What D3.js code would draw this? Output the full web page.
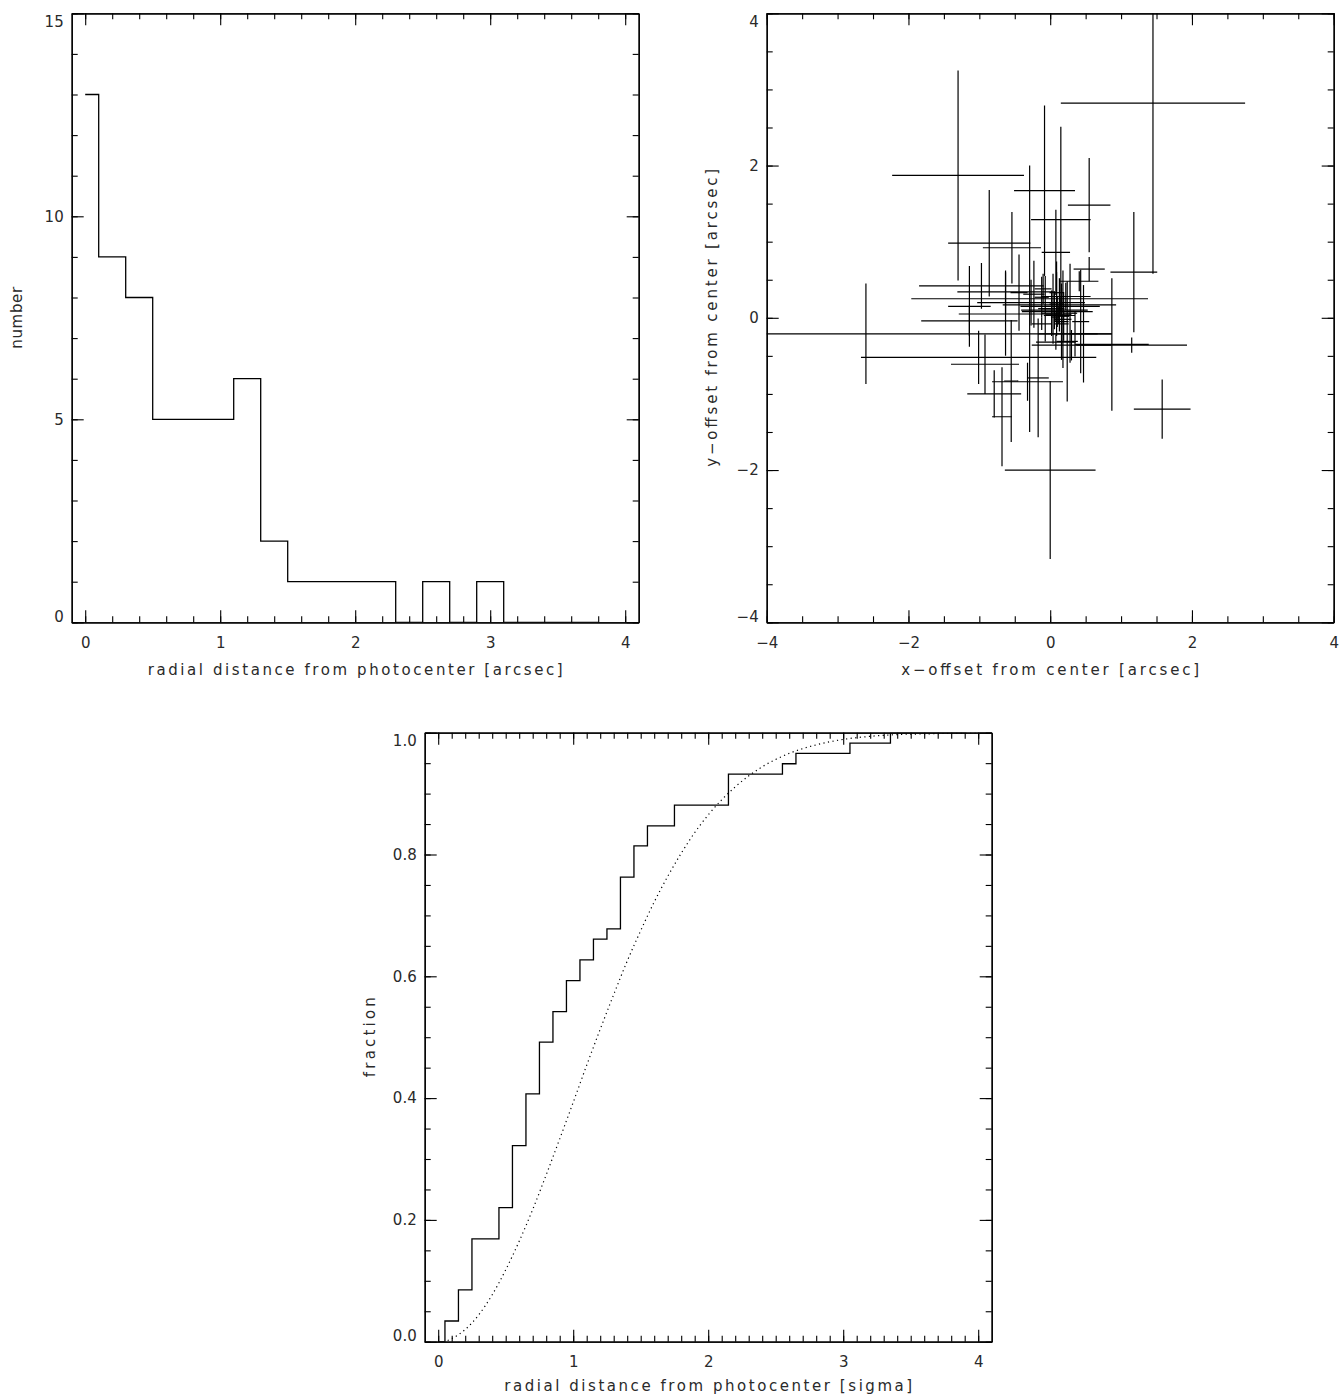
<!DOCTYPE html>
<html>
<head>
<meta charset="utf-8">
<script src="https://cdn.jsdelivr.net/npm/d3@7"></script>
<style>
  body { margin: 0; background: #fff; }
  svg { display: block; }
  text { font-family: "DejaVu Sans", "Liberation Sans", sans-serif; fill: #2a2a2a; }
</style>
</head>
<body>
<svg id="fig" width="1340" height="1397"></svg>
<script>
// --- top left: histogram of radial distances [arcsec] (bin centres, counts)
const histR = [0, 0.2, 0.4, 0.6, 0.8, 1.0, 1.2, 1.4, 1.6, 1.8, 2.0, 2.2, 2.4, 2.6, 2.8, 3.0, 3.2, 3.4, 3.6, 3.8];
const histN = [13, 9, 8, 5, 5, 5, 6, 2, 1, 1, 1, 1, 0, 1, 0, 1, 0, 0, 0, 0];

// --- top right: offsets from center with 1-sigma errors [arcsec]
const offX = [1.45, -1.30, -0.08, 0.15, 0.55, 1.18, -0.86, -0.54, -0.29, -2.60,
  -1.01, -0.92, -0.79, -0.68, 0.00, 1.58, 0.87, 0.08, 0.55, 0.41,
  -0.97, -0.63, -0.27, 0.13, -1.14, -1.14, 0.35, 1.15, -0.32, -0.55,
  -0.17, -0.63, -0.44, -0.23, 0.18, 0.24, 0.28, 0.43, 0.47, 0.06,
  0.10, 0.04, 0.16, 0.19, 0.09, 0.12, 0.14, 0.02, 0.16, 0.09,
  0.13, 0.07, -0.07, -0.12, 0.08, 0.30, -0.12, 0.22, -0.10];
const offY = [2.82, 1.87, 1.67, 1.29, 1.48, 0.60, 0.98, 0.92, 0.25, -0.21,
  -0.52, -0.61, -1.00, -1.30, -2.00, -1.20, -0.35, 0.86, 0.64, 0.48,
  0.42, 0.34, 0.20, 0.17, 0.15, -0.04, -0.21, -0.36, -0.84, -0.83,
  -0.79, 0.05, 0.33, 0.31, -0.02, -0.31, 0.06, -0.05, -0.21, 0.10,
  0.08, 0.12, -0.05, 0.02, 0.18, 0.04, 0.15, 0.06, -0.08, 0.33,
  0.03, 0.01, 0.12, 0.27, -0.32, -0.36, -0.08, 0.28, 0.38];
const errX = [1.30, 0.93, 0.43, 0.42, 0.30, 0.33, 0.58, 0.41, 1.67, 3.47,
  1.66, 0.48, 0.38, 0.14, 0.64, 0.40, 0.52, 0.20, 0.22, 0.27,
  0.88, 0.68, 0.76, 0.80, 0.30, 0.68, 0.52, 0.78, 0.50, 0.10,
  0.15, 0.66, 0.12, 0.15, 0.12, 0.15, 0.10, 0.12, 0.20, 0.47,
  0.50, 0.16, 0.10, 0.08, 0.10, 0.18, 0.56, 0.14, 0.10, 0.10,
  0.22, 0.06, 0.10, 0.10, 0.28, 0.56, 0.14, 0.35, 0.12];
const errY = [2.24, 1.38, 1.12, 1.22, 0.62, 0.79, 0.70, 0.47, 1.75, 0.66,
  0.35, 0.39, 0.31, 0.65, 1.17, 0.39, 0.87, 0.56, 0.16, 0.13,
  0.30, 0.28, 0.30, 0.35, 0.53, 0.20, 0.30, 0.10, 0.25, 0.80,
  0.78, 0.55, 0.50, 0.44, 0.64, 0.79, 0.65, 0.68, 0.64, 0.25,
  0.20, 0.46, 0.50, 0.32, 0.42, 0.12, 0.12, 0.30, 0.47, 0.41,
  0.08, 0.06, 0.43, 0.27, 0.10, 0.20, 0.08, 0.18, 0.20];

// --- bottom: cumulative fraction vs radial distance [sigma]
const cumR = [0, 0.1, 0.2, 0.3, 0.4, 0.5, 0.6, 0.7, 0.8, 0.9,
  1.0, 1.1, 1.2, 1.3, 1.4, 1.5, 1.6, 1.7, 1.8, 1.9,
  2.0, 2.1, 2.2, 2.3, 2.4, 2.5, 2.6, 2.7, 2.8, 2.9,
  3.0, 3.1, 3.2, 3.3, 3.4, 3.5, 3.6, 3.7, 3.8, 3.9];
const cumF = [0, 0.034, 0.085, 0.169, 0.169, 0.220, 0.322, 0.407, 0.492, 0.542,
  0.593, 0.627, 0.661, 0.678, 0.763, 0.814, 0.847, 0.847, 0.881, 0.881,
  0.881, 0.881, 0.932, 0.932, 0.932, 0.932, 0.949, 0.966, 0.966, 0.966,
  0.966, 0.983, 0.983, 0.983, 1.0, 1.0, 1.0, 1.0, 1.0, 1.0];
// dotted reference curve
const expR = [0.07, 0.1, 0.2, 0.3, 0.4, 0.5, 0.6, 0.7, 0.8, 0.9, 1.0, 1.1, 1.2, 1.3, 1.4,
  1.5, 1.6, 1.7, 1.8, 1.9, 2.0, 2.2, 2.4, 2.6, 2.8, 3.0, 3.2, 3.4, 3.6, 3.8, 4.0];
const expF = [0.002, 0.005, 0.020, 0.044, 0.077, 0.118, 0.165, 0.217, 0.274, 0.333, 0.393,
  0.454, 0.513, 0.570, 0.625, 0.675, 0.722, 0.764, 0.802, 0.836, 0.865, 0.911, 0.944,
  0.966, 0.980, 0.989, 0.994, 0.997, 0.998, 0.999, 1.0];

const svg = d3.select("#fig");
svg.append("rect").attr("width", 1340).attr("height", 1397).attr("fill", "#fff");

const PW = 567, PH = 609;
const FONT = '"DejaVu Sans", "Liberation Sans", sans-serif';
let clipN = 0;

function panel(o) {
  const g = svg.append("g").attr("transform", `translate(${o.left},${o.top})`);
  const x = d3.scaleLinear().domain(o.xDom).range([0, PW]);
  const y = d3.scaleLinear().domain(o.yDom).range([PH, 0]);

  const styleAxis = sel => {
    sel.selectAll("path.domain").attr("stroke", "#000").attr("stroke-width", 1.3);
    sel.selectAll(".tick line").attr("stroke", "#000").attr("stroke-width", 1.1);
    sel.selectAll("text").attr("font-size", 15).attr("fill", "#2a2a2a").attr("font-family", FONT);
  };

  // minor ticks first, majors on top
  [[d3.axisBottom(x), PH], [d3.axisTop(x), 0]].forEach(([ax, ty]) => {
    g.append("g").attr("transform", `translate(0,${ty})`)
      .call(ax.tickValues(o.xMinor).tickSize(-6).tickSizeOuter(0).tickFormat(""))
      .call(styleAxis);
  });
  [[d3.axisLeft(y), 0], [d3.axisRight(y), PW]].forEach(([ax, tx]) => {
    g.append("g").attr("transform", `translate(${tx},0)`)
      .call(ax.tickValues(o.yMinor).tickSize(-6).tickSizeOuter(0).tickFormat(""))
      .call(styleAxis);
  });

  g.append("g").attr("transform", `translate(0,${PH})`)
    .call(d3.axisBottom(x).tickValues(o.xMajor).tickSize(-12).tickSizeOuter(0)
      .tickPadding(15).tickFormat(o.xFmt))
    .call(styleAxis);
  g.append("g")
    .call(d3.axisTop(x).tickValues(o.xMajor).tickSize(-12).tickSizeOuter(0).tickFormat(""))
    .call(styleAxis);
  const yl = g.append("g")
    .call(d3.axisLeft(y).tickValues(o.yMajor).tickSize(-12).tickSizeOuter(0)
      .tickPadding(8).tickFormat(o.yFmt))
    .call(styleAxis);
  // extreme labels sit just inside the frame
  const yt = yl.selectAll(".tick text");
  yt.filter(d => d === o.yMajor[0]).attr("y", -6);
  yt.filter(d => d === o.yMajor[o.yMajor.length - 1]).attr("y", 8);
  g.append("g").attr("transform", `translate(${PW},0)`)
    .call(d3.axisRight(y).tickValues(o.yMajor).tickSize(-12).tickSizeOuter(0).tickFormat(""))
    .call(styleAxis);

  g.append("text")
    .attr("x", PW / 2).attr("y", PH + (o.xTitleGap || 53))
    .attr("text-anchor", "middle").attr("font-size", 15)
    .attr("textLength", o.xTitleLen).attr("lengthAdjust", "spacing")
    .text(o.xTitle);
  g.append("text")
    .attr("transform", `translate(${-50},${PH / 2}) rotate(-90)`)
    .attr("text-anchor", "middle").attr("font-size", 15)
    .attr("textLength", o.yTitleLen).attr("lengthAdjust", "spacing")
    .text(o.yTitle);

  const id = "clip" + (clipN++);
  g.append("clipPath").attr("id", id).append("rect").attr("width", PW).attr("height", PH);
  const plot = g.append("g").attr("clip-path", `url(#${id})`);
  return { plot, x, y };
}

const minus = d => String(d).replace("-", "\u2212");

// ---------- top left: histogram
{
  const p = panel({
    left: 71.7, top: 13.3,
    xDom: [-0.1, 4.1], yDom: [0, 15],
    xMajor: [0, 1, 2, 3, 4], xMinor: d3.range(0, 4.01, 0.2),
    yMajor: [0, 5, 10, 15], yMinor: d3.range(0, 15.01, 1),
    xFmt: d => d, yFmt: d => d,
    xTitle: "radial distance from photocenter [arcsec]", xTitleLen: 415,
    yTitle: "number", yTitleLen: 62
  });
  const line = d3.line().x((d, i) => p.x(histR[i])).y(d => p.y(d)).curve(d3.curveStep);
  p.plot.append("path").attr("d", line(histN))
    .attr("fill", "none").attr("stroke", "#000").attr("stroke-width", 1.3);
}

// ---------- top right: offsets with error bars
{
  const p = panel({
    left: 766.7, top: 13.3,
    xDom: [-4, 4], yDom: [-4, 4],
    xMajor: [-4, -2, 0, 2, 4], xMinor: d3.range(-4, 4.01, 0.5),
    yMajor: [-4, -2, 0, 2, 4], yMinor: d3.range(-4, 4.01, 0.5),
    xFmt: minus, yFmt: minus,
    xTitle: "x\u2212offset from center [arcsec]", xTitleLen: 298,
    yTitle: "y\u2212offset from center [arcsec]", yTitleLen: 298
  });
  const pts = offX.map((v, i) => ({ x: v, y: offY[i], ex: errX[i], ey: errY[i] }));
  const bars = p.plot.append("g").attr("stroke", "#000").attr("stroke-width", 1.2);
  bars.selectAll("line.h").data(pts).join("line").attr("class", "h")
    .attr("x1", d => p.x(d.x - d.ex)).attr("x2", d => p.x(d.x + d.ex))
    .attr("y1", d => p.y(d.y)).attr("y2", d => p.y(d.y));
  bars.selectAll("line.v").data(pts).join("line").attr("class", "v")
    .attr("x1", d => p.x(d.x)).attr("x2", d => p.x(d.x))
    .attr("y1", d => p.y(d.y - d.ey)).attr("y2", d => p.y(d.y + d.ey));
}

// ---------- bottom: cumulative distribution
{
  const p = panel({
    left: 424.7, top: 732.7,
    xDom: [-0.1, 4.1], yDom: [0, 1],
    xMajor: [0, 1, 2, 3, 4], xMinor: d3.range(0, 4.01, 0.1),
    yMajor: [0, 0.2, 0.4, 0.6, 0.8, 1.0], yMinor: d3.range(0, 1.001, 0.05),
    xFmt: d => d, yFmt: d3.format(".1f"),
    xTitle: "radial distance from photocenter [sigma]", xTitleLen: 408, xTitleGap: 49,
    yTitle: "fraction", yTitleLen: 80
  });
  const dots = d3.line().x((d, i) => p.x(expR[i])).y(d => p.y(d)).curve(d3.curveMonotoneX);
  p.plot.append("path").attr("d", dots(expF))
    .attr("fill", "none").attr("stroke", "#000").attr("stroke-width", 1.2)
    .attr("stroke-dasharray", "1.2,3.4");
  const step = d3.line().x((d, i) => p.x(cumR[i])).y(d => p.y(d)).curve(d3.curveStep);
  p.plot.append("path").attr("d", step(cumF))
    .attr("fill", "none").attr("stroke", "#000").attr("stroke-width", 1.3);
}
</script>
</body>
</html>
